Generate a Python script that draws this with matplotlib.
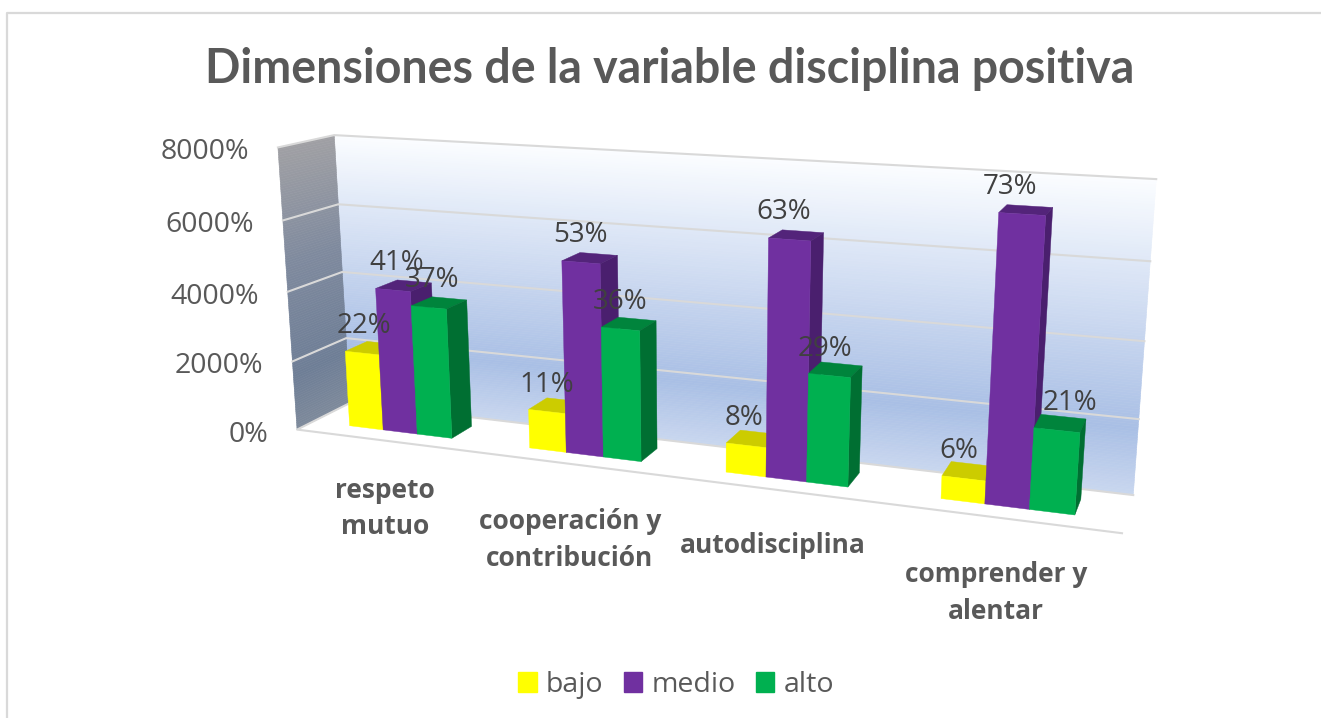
"""
Excel style 3D clustered columns, drawn on a pixel sized axes through a
projection fitted to the corners of the chart box.
"""

import numpy as np
import matplotlib
matplotlib.use("Agg")
import matplotlib.pyplot as plt
from matplotlib.collections import PolyCollection
from matplotlib.colors import LinearSegmentedColormap
from matplotlib.patches import Patch, Polygon

TITLE = "Dimensiones de la variable disciplina positiva"
categories = ["respeto\nmutuo", "cooperación y\ncontribución", "autodisciplina", "comprender y\nalentar"]
series_names = ["bajo", "medio", "alto"]
bajo = [22, 11, 8, 6]
medio = [41, 53, 63, 73]
alto = [37, 36, 29, 21]
axis_ticks = [0, 20, 40, 60, 80]
tick_labels = ["0%", "2000%", "4000%", "6000%", "8000%"]

AXIS_MAX = 80
GAP = 2.19  # gap width in bar widths
DEPTH = (0.30, 0.72)  # front and back of the columns in the box

# (across, depth, height) of the box -> pixel, read from the walls
CALIB = [
    ((0, 0, 0), (298, 429)), ((0, 0, .25), (293, 361)), ((0, 0, .5), (288, 292)),
    ((0, 0, .75), (282, 220)), ((0, 0, 1), (277, 148)),
    ((0, 1, 0), (349, 404)), ((0, 1, .25), (345, 338)), ((0, 1, .5), (343, 272)),
    ((0, 1, .75), (339, 204)), ((0, 1, 1), (335, 135)),
    ((1, 1, 0), (1133, 494)), ((1, 1, .25), (1139, 419)), ((1, 1, .5), (1145, 342)),
    ((1, 1, .75), (1150, 261)), ((1, 1, 1), (1156, 179)),
    ((1, 0, 0), (1122, 534)),
]

FRONT = ["#FFFF00", "#7030A0", "#00B050"]
TOP = ["#CCCC00", "#53247A", "#00843C"]
SIDE = ["#AAAA00", "#4A1F6E", "#006F32"]
GREY = "#D9D9D9"
TEXT = "#595959"
LABEL = "#404040"


def fit_projection():
    rows, rhs = [], []
    for (u, v, w), (x, y) in CALIB:
        rows.append([u, v, w, 1, 0, 0, 0, 0, -x * u, -x * v, -x * w])
        rhs.append(x)
        rows.append([0, 0, 0, 0, u, v, w, 1, -y * u, -y * v, -y * w])
        rhs.append(y)
    p = np.linalg.lstsq(np.array(rows, float), np.array(rhs, float), rcond=None)[0]
    return np.append(p, 1.0).reshape(3, 4)


M = fit_projection()


def project(u, v, w):
    x, y, s = M @ np.array([u, v, w, 1.0])
    return x / s, y / s


def quad(*corners):
    return [project(*c) for c in corners]


def draw_wall(ax, cmap, corner):
    # thin strips in height give the gradient that follows the perspective
    levels = np.linspace(0, 1, 121)
    polys = [quad(corner(a), corner(b)) + quad(corner(b, True), corner(a, True))
             for a, b in zip(levels[:-1], levels[1:])]
    ax.add_collection(PolyCollection(polys, facecolors=cmap((levels[:-1] + levels[1:]) / 2),
                                     edgecolors="face", linewidths=0.4, zorder=1))


def main():
    fig = plt.figure(figsize=(13.21, 7.18), dpi=100)
    ax = fig.add_axes([0, 0, 1, 1])
    ax.set_xlim(0, 1321)
    ax.set_ylim(718, 0)
    ax.axis("off")

    # chart frame, only top and left show in the crop
    ax.plot([7, 7, 1321], [718, 13, 13], color=GREY, lw=1.6, zorder=0)

    back = LinearSegmentedColormap.from_list(
        "back", [(0, "#C9D7EF"), (.22, "#A9BFE5"), (.5, "#C5D4EE"), (.75, "#DFE8F7"), (1, "#FBFDFF")])
    left = LinearSegmentedColormap.from_list(
        "left", [(0, "#7E8A9B"), (.2, "#6E7E96"), (.6, "#7F8A9E"), (1, "#A0A0A4")])
    draw_wall(ax, back, lambda w, far=False: (1 if far else 0, 1, w))
    draw_wall(ax, left, lambda w, far=False: (0, 1 if far else 0, w))

    # gridlines on both walls
    for t in axis_ticks[1:]:
        w = t / AXIS_MAX
        pts = quad((0, 0, w), (0, 1, w), (1, 1, w))
        ax.plot(*zip(*pts), color=GREY, lw=1.5, zorder=2)
    # floor edges
    ax.plot(*zip(*quad((0, 1, 0), (0, 0, 0), (1, 0, 0))), color=GREY, lw=1.5, zorder=2)
    ax.plot(*zip(*quad((0, 1, 0), (1, 1, 0))), color=GREY, lw=1.5, zorder=2)

    # columns, left to right so that the next one hides the side of the last
    series = [bajo, medio, alto]
    cat_w = 1 / len(categories)
    bar_w = cat_w / (len(series) + GAP)
    v0, v1 = DEPTH
    for i in range(len(categories)):
        for j, values in enumerate(series):
            u0 = i * cat_w + (GAP / 2 + j) * bar_w
            u1 = u0 + bar_w
            h = values[i] / AXIS_MAX
            z = 3 + i * 3 + j
            ax.add_patch(Polygon(quad((u0, v1, h), (u1, v1, h), (u1, v0, h), (u0, v0, h)),
                                 fc=TOP[j], ec=TOP[j], lw=0.3, zorder=z))
            ax.add_patch(Polygon(quad((u1, v0, 0), (u1, v1, 0), (u1, v1, h), (u1, v0, h)),
                                 fc=SIDE[j], ec=SIDE[j], lw=0.3, zorder=z))
            ax.add_patch(Polygon(quad((u0, v0, 0), (u1, v0, 0), (u1, v0, h), (u0, v0, h)),
                                 fc=FRONT[j], ec=FRONT[j], lw=0.3, zorder=z))

    # data labels above everything, a few were dragged by hand in the original
    label_nudge = {(0, 0): 2, (0, 1): 4, (0, 2): 3, (2, 0): -2, (2, 1): -6, (2, 2): -4,
                   (3, 0): -5, (3, 1): -12, (3, 2): 13}
    for i in range(len(categories)):
        for j, values in enumerate(series):
            u = i * cat_w + (GAP / 2 + j + 0.5) * bar_w
            x, y = project(u, v0, values[i] / AXIS_MAX)
            ax.text(x + label_nudge.get((i, j), 0), y - 27, f"{values[i]}%", ha="center", va="center",
                    fontsize=20, color=LABEL, family="Open Sans", zorder=40)

    for t, lab in zip(axis_ticks, tick_labels):
        x, y = project(0, 0, t / AXIS_MAX)
        ax.text(x - 29, y + 5, lab, ha="right", va="center", fontsize=20.5, color=TEXT,
                family="Open Sans", zorder=40)

    cat_nudge = [(0, 68), (-2, 76), (-4, 56), (-5, 75)]
    for i, name in enumerate(categories):
        x, y = project((i + 0.5) * cat_w, 0, 0)
        ax.text(x + cat_nudge[i][0], y + cat_nudge[i][1], name, ha="center", va="center",
                fontsize=19, fontweight="bold", color=TEXT, family="Open Sans",
                linespacing=1.45, zorder=40)

    ax.text(670, 69, TITLE, ha="center", va="center", fontsize=33.5, fontweight="bold",
            color=TEXT, family="Lato", zorder=40)

    handles = [Patch(fc=c, ec=c, label=n) for c, n in zip(FRONT, series_names)]
    leg = ax.legend(handles=handles, ncols=3, loc="center", bbox_to_anchor=(676, 685),
                    bbox_transform=ax.transData, frameon=False,
                    prop={"family": "Open Sans", "size": 20.5}, labelcolor=TEXT,
                    handlelength=0.65, handleheight=0.65, handletextpad=0.32, columnspacing=0.72,
                    borderpad=0, borderaxespad=0)
    leg.set_zorder(40)

    fig.savefig("out.png", dpi=100)


if __name__ == "__main__":
    main()
